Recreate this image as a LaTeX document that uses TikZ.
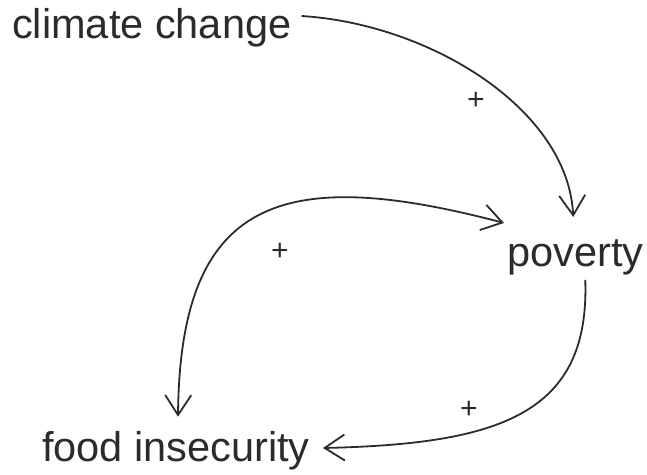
\documentclass[tikz,border=0pt]{standalone}
\usepackage{fontspec}
\setmainfont{Liberation Sans}
\usetikzlibrary{arrows.meta}
\definecolor{ink}{HTML}{2B2B2B}
\begin{document}
\begin{tikzpicture}[x=1pt,y=1pt,
  label/.style={inner sep=0pt,text=ink,font=\fontsize{41.5}{48}\selectfont},
  sign/.style={inner sep=0pt,text=ink,font=\fontsize{30}{34}\selectfont},
  link/.style={draw=ink,line width=1.8pt,-{Straight Barb[length=20pt,width=26pt,line width=1.8pt]}},
  duallink/.style={draw=ink,line width=1.8pt,{Straight Barb[length=20pt,width=26pt,line width=1.8pt]}-{Straight Barb[length=20pt,width=26pt,line width=1.8pt]}}]
\useasboundingbox (0,0) rectangle (647,474);
\node[label,anchor=base west] (cc) at (12,435) {climate change};
\node[label,anchor=base west] (pov) at (507,207) {poverty};
\node[label,anchor=base west] (food) at (42,13) {food insecurity};
\node[sign] (p1) at (476,373) {+};
\node[sign] (p2) at (280,222) {+};
\node[sign] (p3) at (469,64) {+};
% climate change -> poverty
\draw[link] ([shift={(10,23)}]cc.base east) .. controls (430,450) and (568,365) .. ([shift={(-2,23)}]pov.north);
% food insecurity <-> poverty
\draw[duallink] ([shift={(136,14)}]food.north west) .. controls (180,275) and (280,310) .. ([shift={(-3,17)}]pov.north west);
% poverty -> food insecurity
\draw[link] ([shift={(10,-4)}]pov.south) .. controls (590,60) and (500,30) .. ([shift={(13,13)}]food.base east);
\end{tikzpicture}
\end{document}
